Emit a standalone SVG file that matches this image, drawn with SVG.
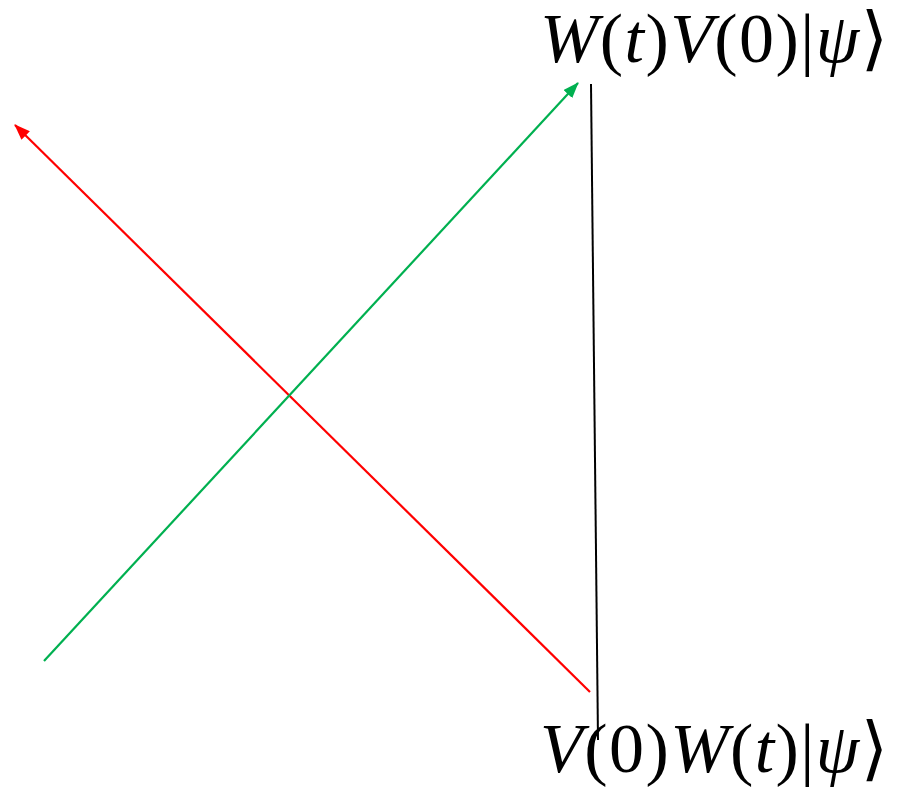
<svg xmlns="http://www.w3.org/2000/svg" width="910" height="789" viewBox="0 0 910 789">
<style>
.lbl{font-family:"Liberation Serif","DejaVu Serif",serif;font-size:70px;fill:#000}
.i{font-style:italic}
</style>
<defs>
<marker id="ar" viewBox="0 0 16 12" refX="15" refY="6" markerWidth="16" markerHeight="12" orient="auto" markerUnits="userSpaceOnUse"><path d="M0,0 L16,6 L0,12 z" fill="#ff0000"/></marker>
<marker id="ag" viewBox="0 0 16 12" refX="15" refY="6" markerWidth="16" markerHeight="12" orient="auto" markerUnits="userSpaceOnUse"><path d="M0,0 L16,6 L0,12 z" fill="#00b050"/></marker>
</defs>
<rect width="910" height="789" fill="#fff"/>
<g id="connectors">
<line x1="590" y1="692" x2="15" y2="125" stroke="#ff0000" stroke-width="2.2" marker-end="url(#ar)"/>
<line x1="44" y1="661" x2="578" y2="83" stroke="#00b050" stroke-width="2.2" marker-end="url(#ag)"/>
<line x1="591" y1="84" x2="598" y2="740" stroke="#000" stroke-width="2"/>
</g>
<g id="top">
<text class="lbl" x="540" y="62" textLength="348" lengthAdjust="spacing"><tspan class="i">W</tspan>(<tspan class="i">t</tspan>)<tspan class="i">V</tspan>(0)|<tspan class="i">ψ</tspan>⟩</text>
</g>
<g id="bottom">
<text class="lbl" x="540" y="772" textLength="348" lengthAdjust="spacing"><tspan class="i">V</tspan>(0)<tspan class="i">W</tspan>(<tspan class="i">t</tspan>)|<tspan class="i">ψ</tspan>⟩</text>
</g>
</svg>
